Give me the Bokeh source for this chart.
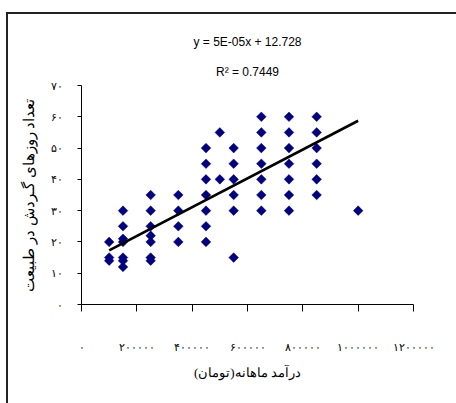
import numpy as np
from bokeh.plotting import figure
from bokeh.models import FixedTicker, Title, Range1d, GlobalInlineStyleSheet
from bokeh.embed import file_html
from bokeh.resources import INLINE

# ---- data ----
income = [100000, 100000, 100000,
          150000, 150000, 150000, 150000, 150000, 150000, 150000,
          250000, 250000, 250000, 250000, 250000, 250000, 250000,
          350000, 350000, 350000, 350000,
          450000, 450000, 450000, 450000, 450000, 450000, 450000,
          500000, 500000,
          550000, 550000, 550000, 550000, 550000, 550000,
          650000, 650000, 650000, 650000, 650000, 650000, 650000,
          750000, 750000, 750000, 750000, 750000, 750000, 750000,
          850000, 850000, 850000, 850000, 850000, 850000,
          1000000]
days = [20, 15, 14,
        30, 25, 21, 20, 15, 14, 12,
        35, 30, 25, 22, 20, 15, 14,
        35, 30, 25, 20,
        50, 45, 40, 35, 30, 25, 20,
        55, 40,
        50, 45, 40, 35, 30, 15,
        60, 55, 50, 45, 40, 35, 30,
        60, 55, 50, 45, 40, 35, 30,
        60, 55, 50, 45, 40, 35,
        30]

trend_x = [100000, 1000000]
trend_slope = 4.6e-5
trend_intercept = 12.728
equation_text = "y = 5E-05x + 12.728"
r2_text = "R\u00b2 = 0.7449"

x_ticks = [0, 200000, 400000, 600000, 800000, 1000000, 1200000]
x_tick_labels = ["۰", "۲۰۰۰۰۰", "۴۰۰۰۰۰", "۶۰۰۰۰۰", "۸۰۰۰۰۰", "۱۰۰۰۰۰۰", "۱۲۰۰۰۰۰"]
y_ticks = [0, 10, 20, 30, 40, 50, 60, 70]
y_tick_labels = ["۰", "۱۰", "۲۰", "۳۰", "۴۰", "۵۰", "۶۰", "۷۰"]

x_title = "درآمد ماهانه(تومان)"
y_title = "تعداد روزهای گـردش در طبیعت"

# ---- figure ----
p = figure(width=456, height=403,
           x_range=Range1d(0, 1200000), y_range=Range1d(0, 70),
           output_backend="svg", toolbar_location=None,
           min_border_left=81, min_border_right=43,
           min_border_top=85, min_border_bottom=99)
p.background_fill_color = "white"
p.border_fill_color = "white"
p.outline_line_color = None
p.xgrid.visible = False
p.ygrid.visible = False

# chart-area border (only top and left edges are visible in the reference)
p.stylesheets = [GlobalInlineStyleSheet(css="""
body::before {
  content: "";
  position: fixed;
  left: 6px; top: 12px; width: 2px; height: 391px;
  background: #222222;
  pointer-events: none;
  z-index: 1000;
}
body::after {
  content: "";
  position: fixed;
  left: 6px; top: 12px; width: 450px; height: 2px;
  background: #222222;
  pointer-events: none;
  z-index: 1000;
}
""")]

serif = "Liberation Serif"

for ax in (p.xaxis, p.yaxis):
    ax.axis_line_color = "black"
    ax.axis_line_width = 1
    ax.major_tick_line_color = "black"
    ax.minor_tick_line_color = None
    ax.major_tick_in = 0
    ax.major_label_text_font = serif
    ax.major_label_text_font_size = "11px"
    ax.major_label_text_color = "black"
    ax.axis_label_text_font = serif
    ax.axis_label_text_font_style = "normal"
    ax.axis_label_text_color = "black"

p.xaxis.ticker = FixedTicker(ticks=x_ticks)
p.xaxis.major_label_overrides = dict(zip(x_ticks, x_tick_labels))
p.xaxis.major_tick_out = 7
p.xaxis.major_label_standoff = 29
p.xaxis.axis_label = x_title
p.xaxis.axis_label_text_font_size = "13px"
p.xaxis.axis_label_standoff = 9

p.yaxis.ticker = FixedTicker(ticks=y_ticks)
p.yaxis.major_label_overrides = dict(zip(y_ticks, y_tick_labels))
p.yaxis.major_tick_out = 4
p.yaxis.major_label_standoff = 15
p.yaxis.axis_label = y_title
p.yaxis.axis_label_text_font_size = "15px"
p.yaxis.axis_label_standoff = 11

# points
p.scatter(income, days, marker="square", size=6.8, angle=np.pi / 4,
          fill_color="#000080", line_color="#000080", line_width=0.5)

# trend line
trend_y = [trend_intercept + trend_slope * xv for xv in trend_x]
p.line(trend_x, trend_y, line_color="black", line_width=2.6)

# trend-line equation (placed above the frame)
p.add_layout(Title(text=r2_text, align="center", offset=7, standoff=14,
                   text_font="Liberation Sans", text_font_size="12px",
                   text_font_style="normal", text_color="black"), "above")
p.add_layout(Title(text=equation_text, align="center", offset=7, standoff=14,
                   text_font="Liberation Sans", text_font_size="12px",
                   text_font_style="normal", text_color="black"), "above")

open("out.html", "w").write(file_html(p, INLINE))
